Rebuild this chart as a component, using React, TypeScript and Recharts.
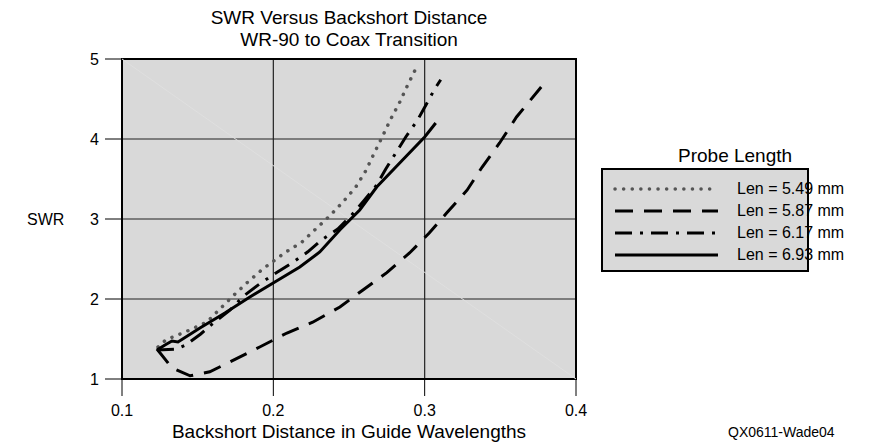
import React from 'react';
import {
  LineChart,
  Line,
  XAxis,
  YAxis,
  CartesianGrid,
  ReferenceArea,
  ReferenceLine,
  Label,
} from 'recharts';

// SWR vs backshort distance, one array per probe length
const len549 = [
  { x: 0.1238, y: 1.4 }, { x: 0.129, y: 1.49 }, { x: 0.142, y: 1.59 },
  { x: 0.156, y: 1.71 }, { x: 0.1647, y: 1.875 }, { x: 0.174, y: 2.05 },
  { x: 0.183, y: 2.21 }, { x: 0.193, y: 2.375 }, { x: 0.2083, y: 2.5875 },
  { x: 0.2188, y: 2.71 }, { x: 0.228, y: 2.875 }, { x: 0.2373, y: 3.04 },
  { x: 0.2459, y: 3.21 }, { x: 0.2545, y: 3.4 }, { x: 0.261, y: 3.6 },
  { x: 0.2663, y: 3.81 }, { x: 0.2723, y: 4.04 }, { x: 0.2776, y: 4.25 },
  { x: 0.2835, y: 4.46 }, { x: 0.2888, y: 4.675 }, { x: 0.2947, y: 4.9 },
];

const len587 = [
  { x: 0.1231, y: 1.375 }, { x: 0.133, y: 1.14 }, { x: 0.145, y: 1.04 },
  { x: 0.158, y: 1.09 }, { x: 0.171, y: 1.21 }, { x: 0.191, y: 1.4 },
  { x: 0.209, y: 1.575 }, { x: 0.226, y: 1.71 }, { x: 0.244, y: 1.9 },
  { x: 0.259, y: 2.11 }, { x: 0.275, y: 2.33 }, { x: 0.29, y: 2.575 },
  { x: 0.303, y: 2.825 }, { x: 0.3145, y: 3.075 }, { x: 0.328, y: 3.36 },
  { x: 0.338, y: 3.65 }, { x: 0.3495, y: 3.95 }, { x: 0.3607, y: 4.275 },
  { x: 0.377, y: 4.65 },
];

const len617 = [
  { x: 0.1231, y: 1.3625 }, { x: 0.1363, y: 1.375 }, { x: 0.1422, y: 1.425 },
  { x: 0.152, y: 1.5625 }, { x: 0.162, y: 1.725 }, { x: 0.1713, y: 1.86 },
  { x: 0.1805, y: 2.04 }, { x: 0.191, y: 2.19 }, { x: 0.2017, y: 2.325 },
  { x: 0.2122, y: 2.45 }, { x: 0.2228, y: 2.59 }, { x: 0.232, y: 2.74 },
  { x: 0.2426, y: 2.875 }, { x: 0.2518, y: 3.05 }, { x: 0.2597, y: 3.225 },
  { x: 0.2677, y: 3.41 }, { x: 0.2743, y: 3.625 }, { x: 0.2809, y: 3.825 },
  { x: 0.2875, y: 4.025 }, { x: 0.2954, y: 4.24 }, { x: 0.3013, y: 4.44 },
  { x: 0.3066, y: 4.625 }, { x: 0.3106, y: 4.74 },
];

const len693 = [
  { x: 0.1231, y: 1.3625 }, { x: 0.1284, y: 1.425 }, { x: 0.133, y: 1.475 },
  { x: 0.137, y: 1.4625 }, { x: 0.1515, y: 1.6375 }, { x: 0.168, y: 1.825 },
  { x: 0.1845, y: 2.025 }, { x: 0.201, y: 2.2125 }, { x: 0.2175, y: 2.4 },
  { x: 0.2307, y: 2.5875 }, { x: 0.2439, y: 2.8625 }, { x: 0.2571, y: 3.1125 },
  { x: 0.2683, y: 3.4 }, { x: 0.2835, y: 3.7 }, { x: 0.3, y: 4.025 },
  { x: 0.3073, y: 4.2 },
];

const xTicks = [0.1, 0.2, 0.3, 0.4];
const yTicks = [1, 2, 3, 4, 5];

const series = [
  { name: 'Len = 5.49 mm', data: len549, stroke: '#555', width: 3.5, dash: '0.1 8.5', cap: 'round' },
  { name: 'Len = 5.87 mm', data: len587, stroke: '#000', width: 3, dash: '18 11', cap: 'butt' },
  { name: 'Len = 6.17 mm', data: len617, stroke: '#000', width: 3, dash: '17 8 3 8', cap: 'butt' },
  { name: 'Len = 6.93 mm', data: len693, stroke: '#000', width: 3, dash: undefined, cap: 'butt' },
];

const FONT = 'Arial, "Liberation Sans", sans-serif';

const ProbeLegend = () => (
  <div style={{ position: 'absolute', left: 601, top: 146, fontSize: 16, whiteSpace: 'nowrap' }}>
    <div style={{ position: 'absolute', left: 77, top: -1, fontSize: 19, lineHeight: '22px' }}>Probe Length</div>
    <div
      style={{
        position: 'absolute',
        left: 0,
        top: 22,
        width: 204,
        height: 100,
        background: '#d9d9d9',
        border: '2px solid #000',
      }}
    >
      {series.map((s, i) => (
        <div key={s.name} style={{ position: 'absolute', left: 0, top: 8 + i * 22, height: 22, display: 'flex', alignItems: 'center' }}>
          <svg width={134} height={22} style={{ display: 'block' }}>
            <line
              x1={12}
              x2={115}
              y1={11}
              y2={11}
              stroke={s.stroke}
              strokeWidth={s.width}
              strokeDasharray={s.dash}
              strokeLinecap={s.cap as any}
            />
          </svg>
          <span>{s.name}</span>
        </div>
      ))}
    </div>
  </div>
);

export default function App() {
  return (
    <div style={{ position: 'absolute', left: 0, top: 0, width: 878, height: 444, fontFamily: FONT }}>
      <div style={{ position: 'absolute', left: 149, width: 400, top: 7, textAlign: 'center', fontSize: 19, lineHeight: '22px' }}>
        SWR Versus Backshort Distance
        <br />
        WR-90 to Coax Transition
      </div>
      <LineChart width={878} height={444} margin={{ top: 59, right: 302, bottom: 0, left: 22 }}>
        <CartesianGrid fill="#d9d9d9" stroke="#222" strokeWidth={1.2} />
        <ReferenceLine
          segment={[{ x: 0.1, y: 5 }, { x: 0.4, y: 1 }]}
          stroke="#dfdfdf"
          strokeWidth={1}
        />
        <XAxis
          type="number"
          dataKey="x"
          domain={[0.1, 0.4]}
          ticks={xTicks}
          tickFormatter={(v) => v.toFixed(1)}
          axisLine={false}
          tickSize={17}
          tickMargin={9}
          tickLine={{ stroke: '#000' }}
          tick={{ fill: '#000', fontSize: 16, fontFamily: FONT }}
          height={65}
          allowDataOverflow
        >
          <Label
            value="Backshort Distance in Guide Wavelengths"
            position="insideBottom"
            offset={6}
            style={{ fill: '#000', fontSize: 19, fontFamily: FONT }}
          />
        </XAxis>
        <YAxis
          type="number"
          domain={[1, 5]}
          ticks={yTicks}
          axisLine={false}
          tickSize={17}
          tickMargin={6}
          tickLine={{ stroke: '#000' }}
          tick={{ fill: '#000', fontSize: 16, fontFamily: FONT }}
          width={100}
          allowDataOverflow
        >
          <Label
            value="SWR"
            position="insideLeft"
            offset={5}
            style={{ fill: '#000', fontSize: 16, fontFamily: FONT }}
          />
        </YAxis>
        {series.map((s) => (
          <Line
            key={s.name}
            data={s.data}
            dataKey="y"
            name={s.name}
            type="linear"
            stroke={s.stroke}
            strokeWidth={s.width}
            strokeDasharray={s.dash}
            strokeLinecap={s.cap as any}
            dot={false}
            activeDot={false}
            isAnimationActive={false}
          />
        ))}
        <ReferenceArea x1={0.1} x2={0.4} y1={1} y2={5} fill="none" stroke="#000" strokeWidth={2} />
      </LineChart>
      <ProbeLegend />
      <div style={{ position: 'absolute', left: 728, top: 424, fontSize: 14 }}>QX0611-Wade04</div>
    </div>
  );
}
